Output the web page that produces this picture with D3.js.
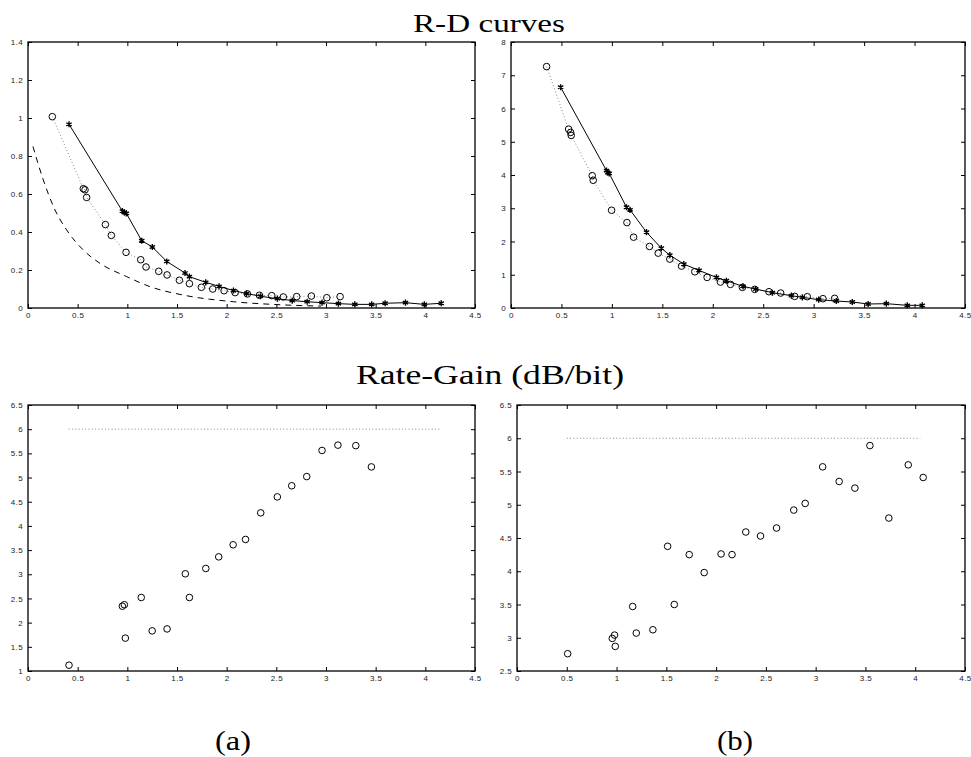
<!DOCTYPE html>
<html>
<head>
<meta charset="utf-8">
<script src="https://cdn.jsdelivr.net/npm/d3@7"></script>
<style>
body { margin: 0; background: #fff; }
svg { display: block; }
</style>
</head>
<body>
<div id="chart"></div>
<script>
// axes
var X_DOMAIN = [0, 4.5];
var X_TICKS = [0, 0.5, 1, 1.5, 2, 2.5, 3, 3.5, 4, 4.5];
var RD_A_DOMAIN = [0, 1.4];
var RD_A_TICKS = [0, 0.2, 0.4, 0.6, 0.8, 1, 1.2, 1.4];
var RD_B_DOMAIN = [0, 8];
var RD_B_TICKS = [0, 1, 2, 3, 4, 5, 6, 7, 8];
var GAIN_A_DOMAIN = [1, 6.5];
var GAIN_A_TICKS = [1, 1.5, 2, 2.5, 3, 3.5, 4, 4.5, 5, 5.5, 6, 6.5];
var GAIN_B_DOMAIN = [2.5, 6.5];
var GAIN_B_TICKS = [2.5, 3, 3.5, 4, 4.5, 5, 5.5, 6, 6.5];

var TITLES = ['R-D curves', 'Rate-Gain (dB/bit)'];
var CAPTIONS = ['(a)', '(b)'];

// (a) R-D: stars on solid line, circles on dotted line, dashed bound
var rdA_star = [[0.413,0.967],[0.95,0.51],[0.97,0.503],[0.99,0.498],[1.145,0.354],[1.252,0.321],
    [1.397,0.245],[1.581,0.184],[1.625,0.165],[1.789,0.135],[1.923,0.114],[2.068,0.092],[2.20,0.076],
    [2.34,0.062],[2.51,0.049],[2.66,0.039],[2.81,0.033],[2.96,0.028],[3.125,0.023],[3.29,0.019],
    [3.46,0.019],[3.595,0.025],[3.80,0.028],[3.99,0.019],[4.16,0.025]];
var rdA_circle = [[0.245,1.007],[0.557,0.628],[0.574,0.622],[0.590,0.582],[0.779,0.439],[0.839,0.382],
    [0.987,0.293],[1.135,0.254],[1.188,0.216],[1.316,0.193],[1.40,0.174],[1.524,0.146],[1.625,0.128],
    [1.745,0.109],[1.86,0.10],[1.974,0.091],[2.085,0.081],[2.209,0.074],[2.33,0.067],[2.454,0.065],
    [2.57,0.058],[2.705,0.06],[2.853,0.063],[3.008,0.054],[3.142,0.06]];
var rdA_bound = [[0.05,0.85],[0.154,0.674],[0.272,0.516],[0.39,0.41],[0.557,0.305],[0.725,0.235],
    [0.994,0.165],[1.23,0.112],[1.564,0.068],[2.07,0.033],[2.5,0.018],[2.95,0.01]];

// (b) R-D
var rdB_star = [[0.492,6.64],[0.947,4.13],[0.96,4.07],[0.973,4.05],[1.145,3.03],[1.18,2.95],
    [1.343,2.28],[1.49,1.80],[1.574,1.59],[1.713,1.32],[1.864,1.13],[2.036,0.92],[2.135,0.82],
    [2.30,0.65],[2.426,0.57],[2.591,0.46],[2.779,0.37],[2.888,0.32],[3.05,0.25],[3.225,0.21],
    [3.383,0.18],[3.54,0.12],[3.72,0.13],[3.928,0.08],[4.076,0.08]];
var rdB_circle = [[0.353,7.26],[0.571,5.38],[0.591,5.28],[0.597,5.19],[0.805,3.98],[0.815,3.84],
    [0.997,2.94],[1.149,2.57],[1.215,2.13],[1.373,1.85],[1.459,1.65],[1.574,1.47],[1.69,1.26],
    [1.822,1.09],[1.944,0.92],[2.076,0.78],[2.175,0.71],[2.294,0.62],[2.416,0.56],[2.557,0.49],
    [2.673,0.45],[2.812,0.35],[2.937,0.34],[3.092,0.28],[3.208,0.29]];

// rate gain
var gainA = [[0.413,1.12],[0.95,2.34],[0.97,2.37],[0.98,1.68],[1.14,2.52],[1.25,1.83],[1.40,1.87],
    [1.584,3.01],[1.625,2.52],[1.79,3.12],[1.92,3.36],[2.065,3.61],[2.19,3.72],[2.343,4.27],
    [2.51,4.60],[2.655,4.83],[2.806,5.02],[2.96,5.56],[3.12,5.67],[3.30,5.66],[3.457,5.22]];
var gainA_limit = [[0.41,6],[4.16,6]];
var gainB = [[0.509,2.76],[0.957,2.99],[0.98,3.04],[0.987,2.87],[1.162,3.47],[1.198,3.07],
    [1.365,3.12],[1.513,4.375],[1.58,3.50],[1.73,4.25],[1.88,3.98],[2.05,4.26],[2.16,4.25],
    [2.298,4.59],[2.446,4.53],[2.607,4.65],[2.78,4.92],[2.895,5.02],[3.07,5.57],[3.236,5.35],
    [3.394,5.25],[3.545,5.89],[3.735,4.80],[3.93,5.60],[4.08,5.41]];
var gainB_limit = [[0.5,6],[4.05,6]];

var WIDTH = 971, HEIGHT = 757;
var TICK = 4;

var svg = d3.select('#chart').append('svg')
    .attr('width', WIDTH)
    .attr('height', HEIGHT);
svg.append('rect').attr('width', WIDTH).attr('height', HEIGHT).attr('fill', '#fff');

function fmt(d) { return String(+d.toFixed(1)); }

function panel(box, yDomain, yTicks) {
    var sx = d3.scaleLinear().domain(X_DOMAIN).range([0, box.w]);
    var sy = d3.scaleLinear().domain(yDomain).range([box.h, 0]);
    var g = svg.append('g')
        .attr('transform', 'translate(' + box.x + ',' + box.y + ')');

    g.append('g')
        .attr('class', 'axis lab')
        .attr('transform', 'translate(0,' + box.h + ')')
        .call(d3.axisBottom(sx).tickValues(X_TICKS).tickSize(-TICK).tickSizeOuter(0)
            .tickPadding(4).tickFormat(fmt));
    g.append('g')
        .attr('class', 'axis')
        .call(d3.axisTop(sx).tickValues(X_TICKS).tickSize(-TICK).tickSizeOuter(0).tickFormat(''));
    g.append('g')
        .attr('class', 'axis lab')
        .call(d3.axisLeft(sy).tickValues(yTicks).tickSize(-TICK).tickSizeOuter(0)
            .tickPadding(5).tickFormat(fmt));
    g.append('g')
        .attr('class', 'axis')
        .attr('transform', 'translate(' + box.w + ',0)')
        .call(d3.axisRight(sy).tickValues(yTicks).tickSize(-TICK).tickSizeOuter(0).tickFormat(''));

    g.selectAll('.axis .domain').remove();
    g.selectAll('.axis line').attr('stroke', '#000').attr('stroke-width', 1);
    g.selectAll('.axis text')
        .attr('font-family', '"Liberation Sans", Arial, sans-serif')
        .attr('font-size', 8)
        .attr('letter-spacing', 0.4)
        .attr('fill', '#222');

    g.append('rect')
        .attr('width', box.w)
        .attr('height', box.h)
        .attr('fill', 'none')
        .attr('stroke', '#000')
        .attr('stroke-width', 1.3);

    var line = d3.line()
        .x(function(d) { return sx(d[0]); })
        .y(function(d) { return sy(d[1]); });
    return {g: g, sx: sx, sy: sy, line: line};
}

function dotted(p, pts) {
    p.g.append('path')
        .attr('d', p.line(pts))
        .attr('fill', 'none')
        .attr('stroke', '#888')
        .attr('stroke-width', 1)
        .attr('stroke-dasharray', '1,2.3');
}
function solid(p, pts) {
    p.g.append('path')
        .attr('d', p.line(pts))
        .attr('fill', 'none')
        .attr('stroke', '#000')
        .attr('stroke-width', 1);
}
function circles(p, pts) {
    p.g.selectAll('circle.pt').data(pts).enter().append('circle')
        .attr('class', 'pt')
        .attr('cx', function(d) { return p.sx(d[0]); })
        .attr('cy', function(d) { return p.sy(d[1]); })
        .attr('r', 3.3)
        .attr('fill', 'none')
        .attr('stroke', '#000')
        .attr('stroke-width', 1);
}
function stars(p, pts) {
    var sym = d3.symbol(d3.symbolAsterisk, 26);
    p.g.selectAll('path.star').data(pts).enter().append('path')
        .attr('class', 'star')
        .attr('transform', function(d) { return 'translate(' + p.sx(d[0]) + ',' + p.sy(d[1]) + ')'; })
        .attr('d', sym)
        .attr('fill', 'none')
        .attr('stroke', '#000')
        .attr('stroke-width', 1.4);
}

// top left
var pa = panel({x: 28, y: 42, w: 447, h: 266}, RD_A_DOMAIN, RD_A_TICKS);
pa.g.append('path')
    .attr('d', pa.line.curve(d3.curveMonotoneX)(rdA_bound))
    .attr('fill', 'none')
    .attr('stroke', '#000')
    .attr('stroke-width', 1)
    .attr('stroke-dasharray', '6,5');
pa.line.curve(d3.curveLinear);
dotted(pa, rdA_circle);
solid(pa, rdA_star);
circles(pa, rdA_circle);
stars(pa, rdA_star);

// top right
var pb = panel({x: 511, y: 42, w: 454, h: 266}, RD_B_DOMAIN, RD_B_TICKS);
dotted(pb, rdB_circle);
solid(pb, rdB_star);
circles(pb, rdB_circle);
stars(pb, rdB_star);

// bottom left
var pc = panel({x: 28, y: 405, w: 447, h: 266}, GAIN_A_DOMAIN, GAIN_A_TICKS);
dotted(pc, gainA_limit);
circles(pc, gainA);

// bottom right
var pd = panel({x: 517, y: 405, w: 448, h: 266}, GAIN_B_DOMAIN, GAIN_B_TICKS);
dotted(pd, gainB_limit);
circles(pd, gainB);

// titles and captions
var serif = '"Liberation Serif", "DejaVu Serif", serif';
svg.append('text')
    .attr('x', 489).attr('y', 32)
    .attr('text-anchor', 'middle')
    .attr('font-family', serif).attr('font-size', 26)
    .attr('textLength', 152).attr('lengthAdjust', 'spacingAndGlyphs')
    .text(TITLES[0]);
svg.append('text')
    .attr('x', 490).attr('y', 384)
    .attr('text-anchor', 'middle')
    .attr('font-family', serif).attr('font-size', 27)
    .attr('textLength', 268).attr('lengthAdjust', 'spacingAndGlyphs')
    .text(TITLES[1]);
svg.append('text')
    .attr('x', 233).attr('y', 750)
    .attr('text-anchor', 'middle')
    .attr('font-family', serif).attr('font-size', 28)
    .attr('textLength', 36).attr('lengthAdjust', 'spacingAndGlyphs')
    .text(CAPTIONS[0]);
svg.append('text')
    .attr('x', 735).attr('y', 750)
    .attr('text-anchor', 'middle')
    .attr('font-family', serif).attr('font-size', 28)
    .attr('textLength', 36).attr('lengthAdjust', 'spacingAndGlyphs')
    .text(CAPTIONS[1]);
</script>
</body>
</html>
